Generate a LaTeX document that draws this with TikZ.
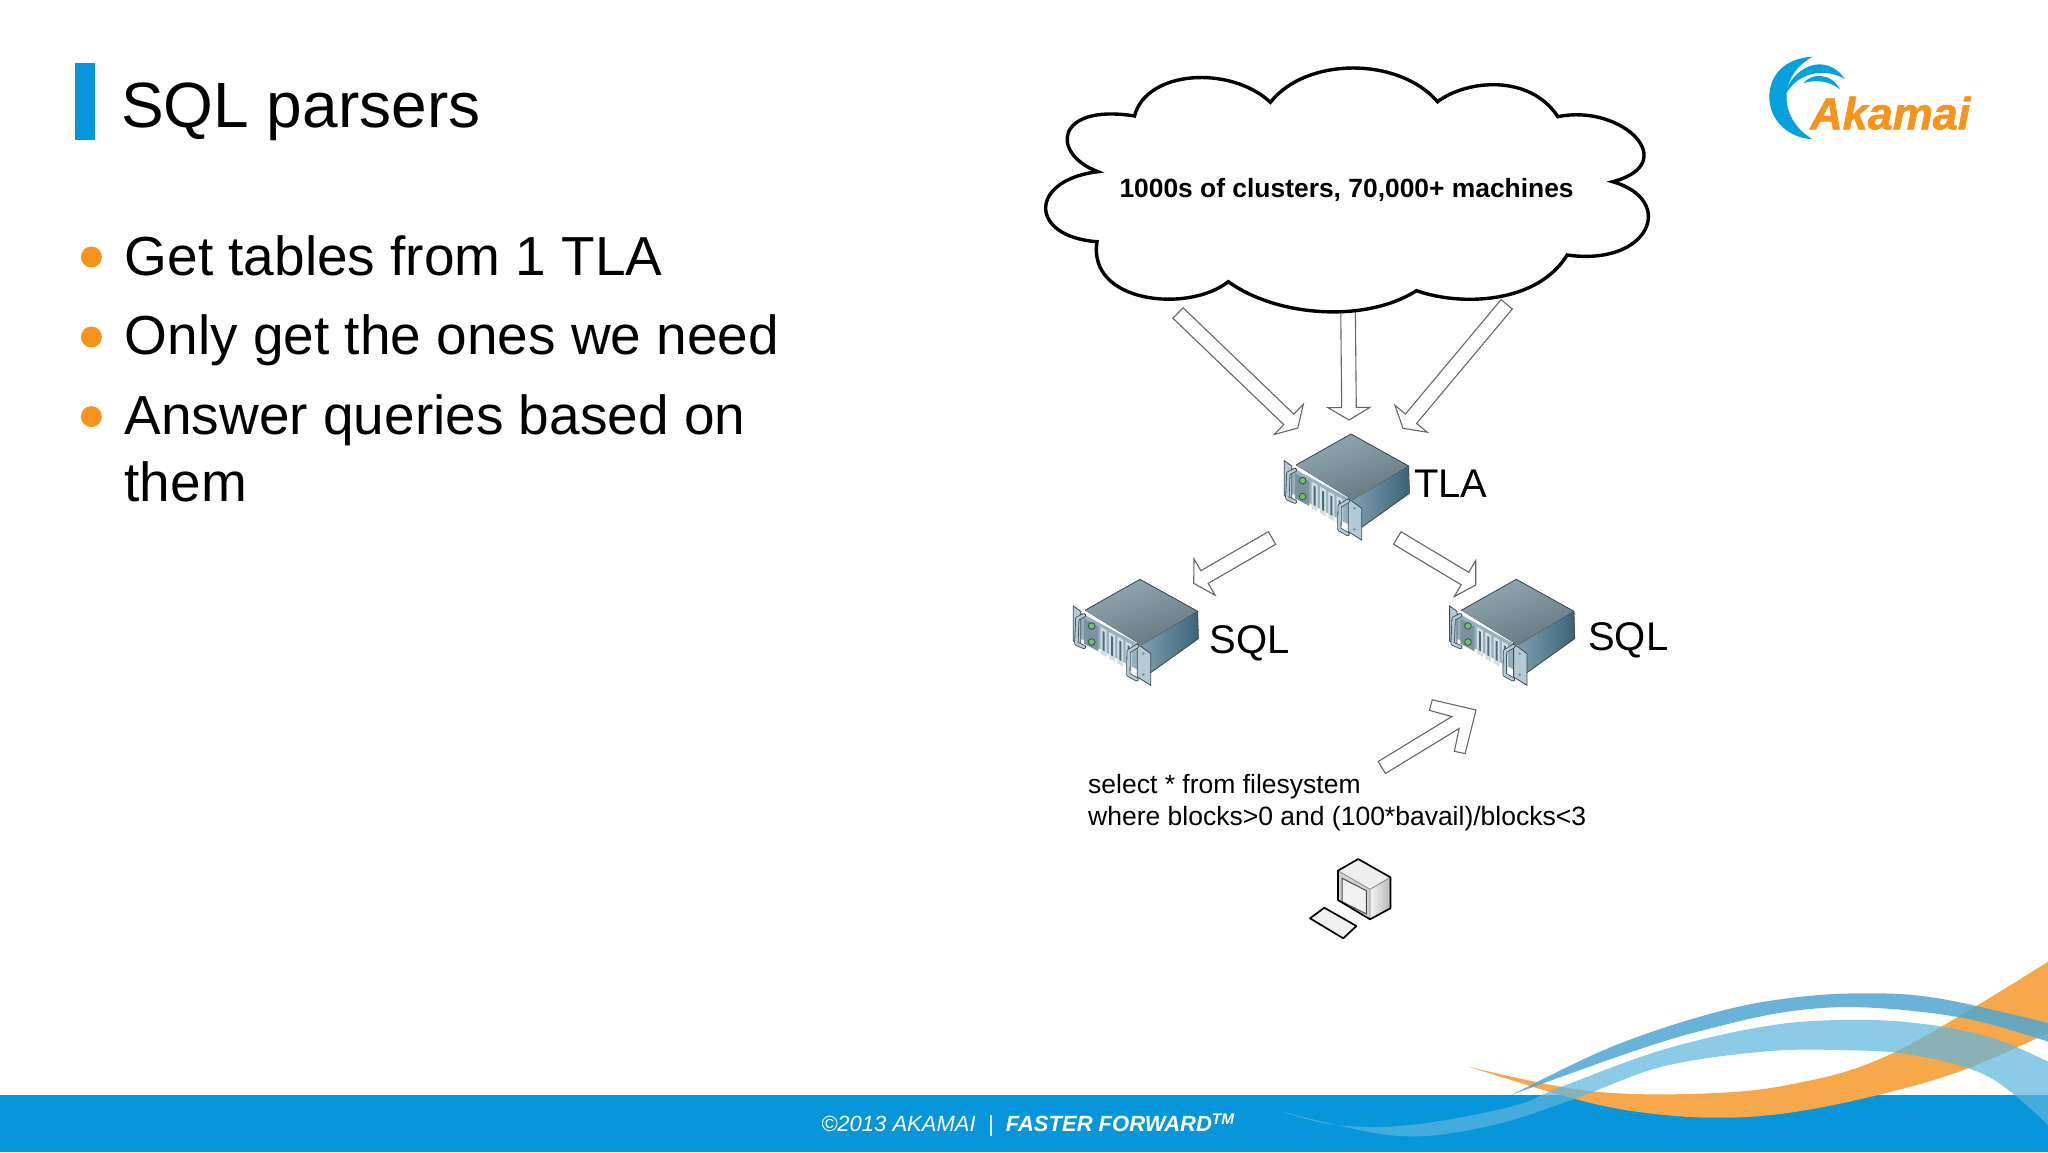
\documentclass[tikz,border=0pt]{standalone}
\usepackage{fontspec}
\setmainfont{Liberation Sans}
\newfontfamily\logofont[BoldItalicFeatures={FakeBold=1.3}]{Liberation Sans}
\usetikzlibrary{calc}

\definecolor{akablue}{HTML}{0796D9}
\definecolor{akaorange}{HTML}{F7941D}
\definecolor{swooshorange}{HTML}{F7A84A}
\definecolor{swooshdark}{HTML}{4FA6D2}
\definecolor{swooshlight}{HTML}{5EB6DE}
\definecolor{srvtopa}{HTML}{64777F}
\definecolor{srvtopb}{HTML}{93A8B3}
\definecolor{srvsidea}{HTML}{7E9EAE}
\definecolor{srvsideb}{HTML}{3B6478}
\definecolor{srvfront}{HTML}{98B0BE}
\definecolor{srvear}{HTML}{B4CAD6}
\definecolor{srvbezel}{HTML}{7C929E}
\definecolor{srvslot}{HTML}{D3E0E7}
\definecolor{srvslit}{HTML}{4E6876}
\definecolor{srvline}{HTML}{3A4A52}
\definecolor{srvled}{HTML}{6CC56E}

\tikzstyle{title} = [anchor=base west, inner sep=0pt, font=\fontsize{64}{70}\selectfont]
\tikzstyle{bullet} = [circle, fill=akaorange, minimum size=21pt, inner sep=0pt]
\tikzstyle{item} = [anchor=base west, inner sep=0pt, font=\fontsize{55}{66.5}\selectfont]
\tikzstyle{label} = [anchor=base west, inner sep=0pt, font=\fontsize{40}{44}\selectfont]
\tikzstyle{query} = [anchor=base west, inner sep=0pt, font=\fontsize{26.5}{31}\selectfont]
\tikzstyle{blockline} = [draw=black!60, line width=1.1pt, fill=white, line join=miter]
\tikzstyle{handle} = [line width=2.6pt, line cap=round, line join=round]
\tikzstyle{pcline} = [line width=1.7pt, line join=round]

\newcommand{\hollowarrow}[2]{
  \coordinate (neck) at ($(#2)!12.5pt!(#1)$);
  \draw [blockline] ($(#1)!7.3pt!90:(#2)$) -- ($(neck)!7.3pt!90:(#2)$) -- ($(neck)!21pt!90:(#2)$)
    -- (#2) -- ($(neck)!21pt!-90:(#2)$) -- ($(neck)!7.3pt!-90:(#2)$) -- ($(#1)!7.3pt!-90:(#2)$) -- cycle;
}
\newcommand{\bigarrow}[2]{
  \coordinate (neck) at ($(#2)!24pt!(#1)$);
  \coordinate (outer) at ($(#2)!32pt!(#1)$);
  \coordinate (inner) at ($(#2)!40pt!(#1)$);
  \draw [blockline] ($(#1)!7pt!90:(#2)$) -- ($(neck)!7pt!90:(#2)$) -- ($(inner)!24pt!90:(#2)$) -- ($(outer)!31.5pt!90:(#2)$)
    -- (#2) -- ($(outer)!31.5pt!-90:(#2)$) -- ($(inner)!24pt!-90:(#2)$) -- ($(neck)!7pt!-90:(#2)$) -- ($(#1)!7pt!-90:(#2)$) -- cycle;
}

\tikzset{serverbox/.pic={
  % body
  \fill [left color=srvtopb, right color=srvtopa, shading angle=20] (75,105) -- (240,12) -- (413,108) -- (245,210) -- cycle;
  \fill [left color=srvsidea, right color=srvsideb] (245,210) -- (413,108) -- (415,190) -- (272,292) -- (245,275) -- cycle;
  \draw [srvline, line width=.8pt, line join=round] (75,105) -- (240,12) -- (413,108) -- (415,190) -- (272,292);
  % front panel and left ear
  \fill [srvfront] (62,112) -- (245,212) -- (245,290) -- (62,190) -- cycle;
  \filldraw [fill=srvear, draw=srvline, line width=.8pt] (40,92) -- (62,108) -- (62,212) -- (40,197) -- cycle;
  \fill [srvbezel] (72,130) -- (115,155) -- (115,228) -- (72,205) -- cycle;
  \foreach \ledy in {152,200} {
    \filldraw [fill=srvled, draw=srvline, line width=.8pt] (95,\ledy) circle (10);
  }
  % slots
  \foreach \slotx/\sloty in {122/155,147/170,172/184,197/198} {
    \fill [srvslot] (\slotx,\sloty) -- ++(18,10) -- ++(0,80) -- ++(-18,-10) -- cycle;
    \fill [srvslit] (\slotx+6,\sloty+12) -- ++(6,3) -- ++(0,58) -- ++(-6,-3) -- cycle;
  }
  % right ear
  \filldraw [fill=srvear, draw=srvline, line width=.8pt] (232,205) -- (272,235) -- (272,330) -- (232,305) -- cycle;
  \fill [srvbezel] (250,235) circle (4.5) (250,298) circle (4.5);
  % handles
  \draw [handle, line width=4.2pt, srvline] (72,120) -- (52,130) -- (49,205) -- (72,215);
  \draw [handle, srvear] (72,120) -- (52,130) -- (49,205) -- (72,215);
  \draw [handle, line width=4.2pt, srvline] (232,212) -- (206,228) -- (205,298) -- (230,312);
  \draw [handle, srvear] (232,212) -- (206,228) -- (205,298) -- (230,312);
}}

\begin{document}
\begin{tikzpicture}[x=1pt, y=-1pt]
\useasboundingbox (0,0) rectangle (2048,1152);
\fill [white] (0,0) rectangle (2048,1152);

% footer and swooshes
\fill [akablue] (0,1094.5) rectangle (2048,1152);
\fill [swooshorange] plot [smooth, tension=.6] coordinates {(1468.5,1066.7) (1581.6,1090) (1687,1094) (1787.6,1085) (1893,1053) (2048,961.7)}
  -- plot [smooth, tension=.6] coordinates {(2048,1033) (1963.5,1070) (1878,1095) (1787.6,1113) (1712,1117.7) (1637,1111.7) (1571.5,1098) (1468.5,1066.7)} -- cycle;
\fill [swooshdark, opacity=.85] plot [smooth, tension=.6] coordinates {(1511.3,1095) (1611.8,1046.7) (1712,1013.3) (1787.6,998.3) (1863,993.3) (1938.4,998.3) (2048,1023)}
  -- plot [smooth, tension=.6] coordinates {(2048,1041.7) (1963.5,1018) (1863,1007.3) (1787.6,1011.7) (1712,1028) (1637,1050) (1511.3,1095)} -- cycle;
\fill [swooshlight, opacity=.71] plot [smooth, tension=.6] coordinates {(1280,1111) (1335.4,1125) (1410.8,1125) (1511,1106.7) (1561.5,1086.7) (1662,1050) (1762.5,1026.7) (1838,1020) (1913,1022.7) (1988.6,1036.7) (2048,1061.7)}
  -- plot [smooth, tension=.6] coordinates {(2048,1125) (1988.6,1076.7) (1913,1055) (1838,1050) (1762.5,1051.7) (1662,1066.7) (1571.5,1100) (1486,1126.7) (1395.7,1135.7) (1280,1111)} -- cycle;
\node (footer) [text=white, inner sep=0pt, font=\fontsize{22}{25}\selectfont\itshape] at (1028,1125) {©2013 AKAMAI\ \ |\ \ \textbf{FASTER FORWARD\textsuperscript{TM}}};

% left column
\fill [akablue] (75,63) rectangle (95,140);
\node (title) [title] at (121,127) {SQL parsers};
\node (dot1) [bullet] at (91.4,257) {};
\node (dot2) [bullet] at (91.4,337) {};
\node (dot3) [bullet] at (91.4,416.6) {};
\node (item1) [item] at (124.5,275.6) {Get tables from 1 TLA};
\node (item2) [item] at (124.5,354.5) {Only get the ones we need};
\node (item3) [item, anchor=north west, align=left] at (124.5,394.7) {Answer queries based on\\them};

% logo
\fill [akablue!90!cyan] (1812.7,56.7) .. controls (1785,58) and (1769.3,75) .. (1769.3,97)
  .. controls (1769.3,120) and (1788,138) .. (1812.7,139.3) .. controls (1797,130) and (1786.5,115) .. (1786.5,97)
  .. controls (1786.5,80) and (1797,65) .. (1812.7,56.7) -- cycle;
\fill [akablue!90!cyan] (1784.3,97) .. controls (1790,68) and (1825,50) .. (1845,79.3)
  .. controls (1828,68) and (1797,70) .. (1784.3,97) -- cycle;
\fill [akablue!90!cyan] (1803.3,83.3) .. controls (1810,74) and (1830,71) .. (1840,89.3)
  .. controls (1830,81) and (1815,79) .. (1803.3,83.3) -- cycle;
\node (logo) [anchor=base west, inner sep=0pt, text=akaorange, font=\fontsize{45}{50}\selectfont\logofont\bfseries\itshape] at (1810,129.3) {Akamai};

% arrows
\coordinate (cloudA) at (1178,313);
\coordinate (cloudB) at (1348,305);
\coordinate (cloudC) at (1506.7,304.3);
\coordinate (tlaA) at (1297.8,428);
\coordinate (tlaB) at (1349.1,420);
\coordinate (tlaC) at (1403,428.3);
\coordinate (tlaD) at (1272,538);
\coordinate (tlaE) at (1397.3,538);
\coordinate (sqlA) at (1193.7,583.3);
\coordinate (sqlB) at (1475.7,585);
\coordinate (clientA) at (1381.8,767.5);
\coordinate (sqlC) at (1476,710);
\hollowarrow{cloudA}{tlaA}
\hollowarrow{cloudB}{tlaB}
\hollowarrow{cloudC}{tlaC}
\hollowarrow{tlaD}{sqlA}
\hollowarrow{tlaE}{sqlB}
\bigarrow{clientA}{sqlC}

% cloud
\draw [fill=white, line width=3.4pt, line join=miter] (1134.5,116)
  .. controls (1146.3,70) and (1230.4,65) .. (1270.4,102.3)
  .. controls (1306.2,56.7) and (1398.8,56.7) .. (1437.5,101.7)
  .. controls (1466.1,80) and (1529.3,73.3) .. (1557.9,116.7)
  .. controls (1622,103.3) and (1683,163.3) .. (1612.6,181.7)
  .. controls (1677,200) and (1650,266.7) .. (1567.1,255)
  .. controls (1537.7,303.3) and (1461.9,306.7) .. (1416.5,290.7)
  .. controls (1365.1,323.3) and (1276.7,316.7) .. (1228.3,281.7)
  .. controls (1188.4,313.3) and (1087.3,303.3) .. (1097,241.7)
  .. controls (1028.4,236.7) and (1028.4,180) .. (1097.9,171.7)
  .. controls (1049.5,153.3) and (1055.8,103.3) .. (1134.5,116) -- cycle;
\node (cloud) [anchor=base, inner sep=0pt, font=\fontsize{26.4}{30}\selectfont\bfseries] at (1346.6,197.5) {1000s of clusters, 70,000+ machines};

% servers
\pic [scale=.3333] (srvTLA) at (1271,430) {serverbox};
\pic [scale=.3333] (srvA) at (1060,575.3) {serverbox};
\pic [scale=.3333] (srvB) at (1436.3,575.3) {serverbox};
\node (tla) [label] at (1414,497) {TLA};
\node (sqlleft) [label] at (1209.5,653) {SQL};
\node (sqlright) [label] at (1588,650) {SQL};

% query and client
\node (select) [query] at (1088,793.3) {select * from filesystem};
\node (where) [query] at (1088,825.3) {where blocks>0 and (100*bavail)/blocks<3};
\fill [black!7] (1337.9,870.7) -- (1358.2,859) -- (1390.4,877.3) -- (1370,889.3) -- cycle;
\fill [left color=black!5, right color=black!28] (1370,889.3) -- (1390.4,877.3) -- (1390.4,908.3) -- (1370,919.3) -- cycle;
\fill [black!18] (1337.9,870.7) -- (1370,889.3) -- (1370,919.3) -- (1337.9,900) -- cycle;
\draw [fill=black!5, draw=black!70, line width=1pt] (1342.1,878.3) -- (1366.4,890.7) -- (1366.4,914) -- (1342.1,901.7) -- cycle;
\draw [black!45, line width=.8pt] (1337.9,870.7) -- (1370,889.3) -- (1390.4,877.3) (1370,889.3) -- (1370,919.3);
\draw [pcline] (1337.9,870.7) -- (1358.2,859) -- (1390.4,877.3) -- (1390.4,908.3) -- (1370,919.3) -- (1337.9,900) -- cycle;
\draw [pcline, fill=black!6] (1324.3,907.7) -- (1356.4,926) -- (1343.2,938.3) -- (1310,918.3) -- cycle;
\end{tikzpicture}
\end{document}
